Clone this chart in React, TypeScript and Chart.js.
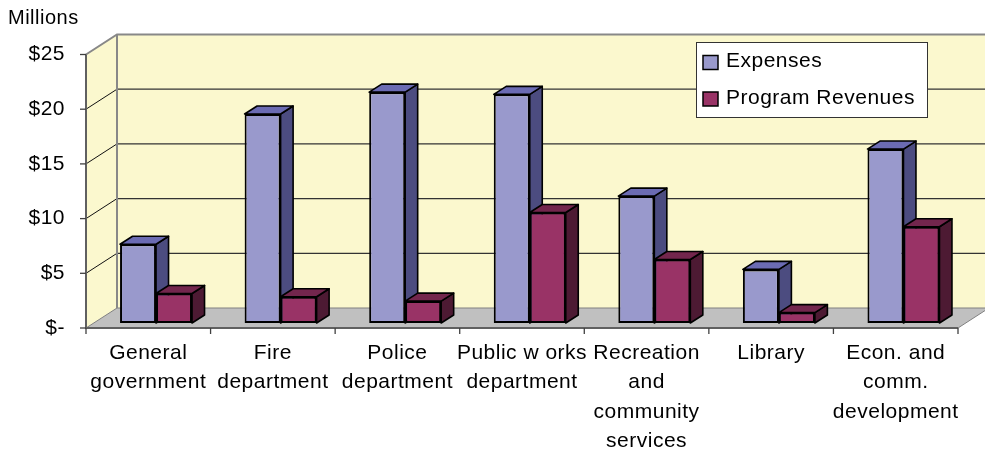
import React, { useEffect, useRef } from 'react';
import { Chart, registerables } from 'chart.js';

Chart.register(...registerables);

// ---- data ----
const categories: string[][] = [
  ['General', 'government'],
  ['Fire', 'department'],
  ['Police', 'department'],
  ['Public w orks', 'department'],
  ['Recreation', 'and', 'community', 'services'],
  ['Library'],
  ['Econ. and', 'comm.', 'development'],
];
const expenses = [7.2, 19.1, 21.1, 20.9, 11.6, 4.9, 15.9];
const programRevenues = [2.7, 2.4, 2.0, 10.1, 5.8, 0.95, 8.8];
const yTickLabels = ['$-', '$5', '$10', '$15', '$20', '$25'];
const seriesNames = ['Expenses', 'Program Revenues'];
const unitLabel = 'Millions';

// ---- styles ----
const FONT = "'Liberation Sans', Arial, sans-serif";
const LS = '0.5px';
const FRONT = { dx: -7.75, dy: 5 };
const BACK = { dx: 23.25, dy: -15 };
const BAR_DEPTH = { dx: 12.5, dy: -8 };
const WALL = '#FBF8CE';
const FLOOR = '#C0C0C0';
const frontColors = ['#9999CC', '#993366'];
const topColors = ['#6B6BB3', '#73264D'];
const sideColors = ['#4C4C80', '#4D1A33'];

type Pt = [number, number];
function path(ctx: CanvasRenderingContext2D, pts: Pt[], close: boolean) {
  ctx.beginPath();
  ctx.moveTo(pts[0][0], pts[0][1]);
  for (let i = 1; i < pts.length; i++) ctx.lineTo(pts[i][0], pts[i][1]);
  if (close) ctx.closePath();
}
function poly(ctx: CanvasRenderingContext2D, pts: Pt[], fill?: string, stroke?: string, lw = 1) {
  path(ctx, pts, true);
  if (fill) { ctx.fillStyle = fill; ctx.fill(); }
  if (stroke) { ctx.strokeStyle = stroke; ctx.lineWidth = lw; ctx.stroke(); }
}
function line(ctx: CanvasRenderingContext2D, pts: Pt[], stroke: string, lw = 1) {
  path(ctx, pts, false);
  ctx.strokeStyle = stroke; ctx.lineWidth = lw; ctx.stroke();
}

const threeD = {
  id: 'threeD',
  beforeUpdate(chart: any) {
    chart.ctx.letterSpacing = LS;
  },
  beforeDraw(chart: any) {
    const ctx: CanvasRenderingContext2D = chart.ctx;
    ctx.letterSpacing = LS;
    const { left: L, right: R } = chart.chartArea;
    const ys = chart.scales.y;
    const xs = chart.scales.x;
    const y0 = ys.getPixelForValue(0);
    const yT = ys.getPixelForValue(ys.max);
    ctx.save();
    ctx.lineJoin = 'miter';
    // walls
    poly(ctx, [[L + FRONT.dx, y0 + FRONT.dy], [L + FRONT.dx, yT + FRONT.dy], [L + BACK.dx, yT + BACK.dy], [L + BACK.dx, y0 + BACK.dy]], WALL);
    poly(ctx, [[L + BACK.dx, yT + BACK.dy], [R + BACK.dx + 10, yT + BACK.dy], [R + BACK.dx + 10, y0 + BACK.dy], [L + BACK.dx, y0 + BACK.dy]], WALL);
    // floor
    poly(ctx, [[L + FRONT.dx, y0 + FRONT.dy], [R + FRONT.dx, y0 + FRONT.dy], [R + BACK.dx, y0 + BACK.dy], [L + BACK.dx, y0 + BACK.dy]], FLOOR, '#808080', 1);
    // gridlines
    ys.ticks.forEach((t: any) => {
      const py = ys.getPixelForValue(t.value);
      if (t.value > 0 && t.value < ys.max) {
        line(ctx, [[L + FRONT.dx, py + FRONT.dy], [L + BACK.dx, py + BACK.dy]], '#111', 1);
        line(ctx, [[L + BACK.dx, py + BACK.dy], [R + BACK.dx + 10, py + BACK.dy]], '#333', 1.3);
      }
    });
    // wall edges
    line(ctx, [[L + FRONT.dx, yT + FRONT.dy], [L + BACK.dx, yT + BACK.dy], [R + BACK.dx + 10, yT + BACK.dy]], '#888', 2);
    line(ctx, [[L + BACK.dx, yT + BACK.dy], [L + BACK.dx, y0 + BACK.dy]], '#888', 2);
    // front axes
    line(ctx, [[L + FRONT.dx, yT + FRONT.dy], [L + FRONT.dx, y0 + FRONT.dy], [R + FRONT.dx, y0 + FRONT.dy]], '#606060', 2);
    // y ticks
    ys.ticks.forEach((t: any) => {
      const py = ys.getPixelForValue(t.value) + FRONT.dy;
      line(ctx, [[L + FRONT.dx - 6, py], [L + FRONT.dx, py]], '#404040', 1.3);
    });
    // x ticks at category boundaries
    const n = chart.data.labels.length;
    const cw = xs.getPixelForValue(1) - xs.getPixelForValue(0);
    for (let i = 0; i <= n; i++) {
      const bx = xs.getPixelForValue(0) - cw / 2 + i * cw + FRONT.dx;
      line(ctx, [[bx, y0 + FRONT.dy], [bx, y0 + FRONT.dy + 6]], '#404040', 1.3);
    }
    ctx.restore();
  },
  afterDatasetsDraw(chart: any) {
    const ctx: CanvasRenderingContext2D = chart.ctx;
    ctx.save();
    ctx.lineJoin = 'round';
    const m0 = chart.getDatasetMeta(0);
    const m1 = chart.getDatasetMeta(1);
    const drawFaces = (el: any, di: number) => {
      const p = el.getProps(['x', 'y', 'base', 'width'], true);
      const l = p.x - p.width / 2;
      const r = p.x + p.width / 2;
      const top = Math.min(p.y, p.base);
      const bot = Math.max(p.y, p.base);
      const { dx, dy } = BAR_DEPTH;
      poly(ctx, [[r, bot], [r, top], [r + dx, top + dy], [r + dx, bot + dy]], sideColors[di], '#000', 1.6);
      poly(ctx, [[l, top], [l + dx, top + dy], [r + dx, top + dy], [r, top]], topColors[di], '#000', 1.6);
    };
    m0.data.forEach((el: any) => drawFaces(el, 0));
    m1.data.forEach((el: any) => {
      el.draw(ctx);
      drawFaces(el, 1);
    });
    ctx.restore();
  },
  afterDraw(chart: any) {
    const ctx: CanvasRenderingContext2D = chart.ctx;
    ctx.save();
    ctx.letterSpacing = LS;
    const bx = 696, by = 42, bw = 231, bh = 75;
    ctx.fillStyle = '#fff';
    ctx.fillRect(bx, by, bw, bh);
    ctx.strokeStyle = '#333';
    ctx.lineWidth = 1;
    ctx.strokeRect(bx + 0.5, by + 0.5, bw, bh);
    ctx.font = `21px ${FONT}`;
    ctx.textBaseline = 'alphabetic';
    ctx.textAlign = 'left';
    chart.data.datasets.forEach((ds: any, i: number) => {
      const base = 67 + i * 36.5;
      ctx.fillStyle = ds.backgroundColor;
      ctx.fillRect(703, base - 11.5, 15, 14);
      ctx.strokeStyle = '#000';
      ctx.lineWidth = 1.5;
      ctx.strokeRect(703, base - 11.5, 15, 14);
      ctx.fillStyle = '#000';
      ctx.fillText(ds.label, 726, base);
    });
    ctx.restore();
  },
};

export default function App() {
  const ref = useRef<HTMLCanvasElement>(null);
  useEffect(() => {
    const canvas = ref.current!;
    const tickFont = { family: FONT, size: 21, lineHeight: 1.405, weight: 'normal' as const };
    const chart = new Chart(canvas, {
      type: 'bar',
      data: {
        labels: categories,
        datasets: [
          { label: seriesNames[0], data: expenses, backgroundColor: frontColors[0], borderColor: '#000', borderWidth: 2, borderSkipped: false },
          { label: seriesNames[1], data: programRevenues, backgroundColor: frontColors[1], borderColor: '#000', borderWidth: 2, borderSkipped: false },
        ],
      },
      options: {
        responsive: false,
        animation: false,
        devicePixelRatio: 1,
        layout: { padding: { left: 8, right: 19.25, top: 0, bottom: 0 } },
        datasets: { bar: { categoryPercentage: 0.578, barPercentage: 1 } },
        plugins: {
          legend: { display: false },
          tooltip: { enabled: false },
          title: {
            display: true,
            text: unitLabel,
            align: 'start',
            color: '#000',
            font: { family: FONT, size: 20, lineHeight: 1.2, weight: 'normal' },
            padding: { top: 6, bottom: 19.5 },
          },
        },
        scales: {
          x: {
            grid: { display: false, drawTicks: false },
            border: { display: false },
            ticks: { autoSkip: false, maxRotation: 0, minRotation: 0, labelOffset: -7.75, padding: 15.25, color: '#000', font: tickFont },
            afterFit: (s: any) => { s.height = 130; },
          },
          y: {
            min: 0,
            max: 25,
            grid: { display: false, drawTicks: false },
            border: { display: false },
            ticks: {
              stepSize: 5,
              labelOffset: 5,
              padding: 28.75,
              color: '#000',
              font: tickFont,
              callback: (_v: any, i: number) => yTickLabels[i],
            },
            afterFit: (s: any) => { s.width = 85.75; },
          },
        },
      },
      plugins: [threeD],
    } as any);
    return () => chart.destroy();
  }, []);
  return (
    <div style={{ position: 'fixed', left: 0, top: 0, width: 985, height: 453, background: '#fff' }}>
      <canvas ref={ref} width={985} height={453} style={{ display: 'block', width: 985, height: 453 }} />
    </div>
  );
}
